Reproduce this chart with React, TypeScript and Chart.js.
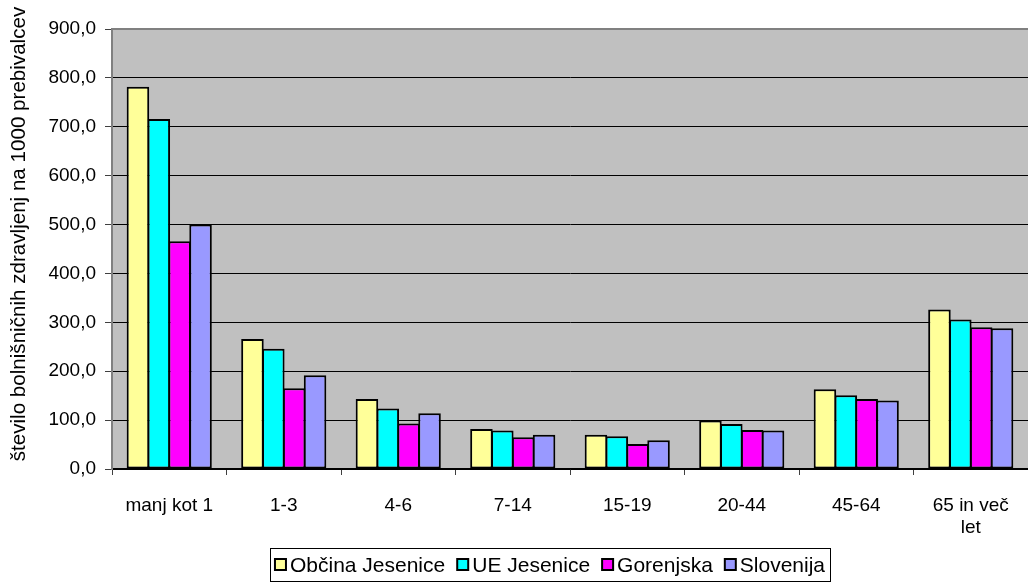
import React, { useEffect, useRef } from "react";
import { Chart, registerables } from "chart.js";

Chart.register(...registerables);

const categories: (string | string[])[] = [
  "manj kot 1",
  "1-3",
  "4-6",
  "7-14",
  "15-19",
  "20-44",
  "45-64",
  ["65 in več", "let"],
];

const obcinaJesenice = [782, 266, 143, 82, 70, 99, 163, 326];
const ueJesenice = [716, 246, 124, 79, 67, 92, 151, 306];
const gorenjska = [466, 165, 93, 65, 51, 80, 143, 290];
const slovenija = [500, 192, 114, 70, 59, 79, 140, 288];

const seriesNames = ["Občina Jesenice", "UE Jesenice", "Gorenjska", "Slovenija"];
const seriesColors = ["#FFFF99", "#00FFFF", "#FF00FF", "#9999FF"];

const yMin = 0;
const yMax = 900;
const yStep = 100;
const yTitle = "število bolnišničnih zdravljenj na 1000 prebivalcev";

const FONT = '"Liberation Sans", Arial, sans-serif';

const plotBg = {
  id: "plotBg",
  beforeDraw(chart: any) {
    const { ctx, chartArea } = chart;
    ctx.save();
    ctx.fillStyle = "#ffffff";
    ctx.fillRect(0, 0, chart.width, chart.height);
    ctx.fillStyle = "#C0C0C0";
    ctx.fillRect(chartArea.left, chartArea.top, chartArea.right - chartArea.left, chartArea.bottom - chartArea.top);
    ctx.restore();
  },
  afterDraw(chart: any) {
    const { ctx, chartArea } = chart;
    ctx.save();
    ctx.strokeStyle = "#808080";
    ctx.lineWidth = 2;
    ctx.beginPath();
    ctx.moveTo(chartArea.left, chartArea.top);
    ctx.lineTo(chartArea.right, chartArea.top);
    ctx.stroke();

    ctx.fillStyle = "#000";
    ctx.font = `20.6px ${FONT}`;
    ctx.textAlign = "center";
    ctx.textBaseline = "middle";
    ctx.translate(19, 234);
    ctx.rotate(-Math.PI / 2);
    ctx.fillText(yTitle, 0, 0);
    ctx.restore();

    ctx.save();
    ctx.font = `21px ${FONT}`;
    const box = 11;
    const gap = 4;
    const spacing = 12;
    const pad = 5;
    const ds = chart.data.datasets;
    const widths = ds.map((d: any) => ctx.measureText(d.label).width);
    let total = pad * 2 + spacing * (ds.length - 1);
    widths.forEach((w: number) => (total += box + gap + w));
    const left = 550 - total / 2;
    const top = 548;
    const bottom = 581;
    ctx.strokeStyle = "#000";
    ctx.lineWidth = 1;
    ctx.strokeRect(Math.round(left) + 0.5, top + 0.5, Math.round(total), bottom - top);
    let x = left + pad;
    const baseline = 572;
    ds.forEach((d: any, i: number) => {
      ctx.fillStyle = d.backgroundColor;
      ctx.fillRect(x, 559, box, box);
      ctx.strokeStyle = "#000";
      ctx.lineWidth = 2;
      ctx.strokeRect(x, 559, box, box);
      ctx.fillStyle = "#000";
      ctx.textAlign = "left";
      ctx.textBaseline = "alphabetic";
      ctx.fillText(d.label, x + box + gap, baseline);
      x += box + gap + widths[i] + spacing;
    });
    ctx.restore();
  },
};

export default function App() {
  const ref = useRef<HTMLCanvasElement | null>(null);

  useEffect(() => {
    if (!ref.current) return;
    const data = [obcinaJesenice, ueJesenice, gorenjska, slovenija];
    const chart = new Chart(ref.current, {
      type: "bar",
      data: {
        labels: categories as any,
        datasets: data.map((vals, i) => ({
          label: seriesNames[i],
          data: vals,
          backgroundColor: seriesColors[i],
          borderColor: "#000000",
          borderWidth: 2,
          borderSkipped: false,
          categoryPercentage: 0.729,
          barPercentage: 1.08,
        })),
      },
      options: {
        animation: false,
        responsive: false,
        devicePixelRatio: 1,
        layout: { padding: { top: 29, right: -6, bottom: 40, left: 0 } },
        plugins: {
          legend: { display: false },
          tooltip: { enabled: false },
          title: { display: false },
        },
        scales: {
          x: {
            grid: {
              offset: true,
              drawOnChartArea: false,
              drawTicks: true,
              tickLength: 6,
              tickColor: "#404040",
              lineWidth: 1,
            },
            border: { color: "#000000", width: 1.5 },
            ticks: {
              color: "#000",
              font: { family: FONT, size: 19 },
              padding: 19,
              maxRotation: 0,
              autoSkip: false,
            },
            afterFit: (s: any) => {
              s.height = 74;
            },
          },
          y: {
            min: yMin,
            max: yMax,
            grid: {
              color: (c: any) => (c.tick && c.tick.value === yMax ? "rgba(0,0,0,0)" : "#000000"),
              lineWidth: 1,
              drawTicks: true,
              tickLength: 7,
              tickColor: "#404040",
            },
            border: { color: "#808080", width: 2 },
            ticks: {
              stepSize: yStep,
              color: "#000",
              font: { family: FONT, size: 19 },
              padding: 9,
              callback: (v: any) => Number(v).toFixed(1).replace(".", ","),
            },
            afterFit: (s: any) => {
              s.width = 112;
            },
          },
        },
      },
      plugins: [plotBg],
    });
    return () => chart.destroy();
  }, []);

  return (
    <div style={{ position: "absolute", left: 0, top: 0, width: 1028, height: 583 }}>
      <canvas ref={ref} width={1028} height={583} style={{ width: 1028, height: 583 }} />
    </div>
  );
}
